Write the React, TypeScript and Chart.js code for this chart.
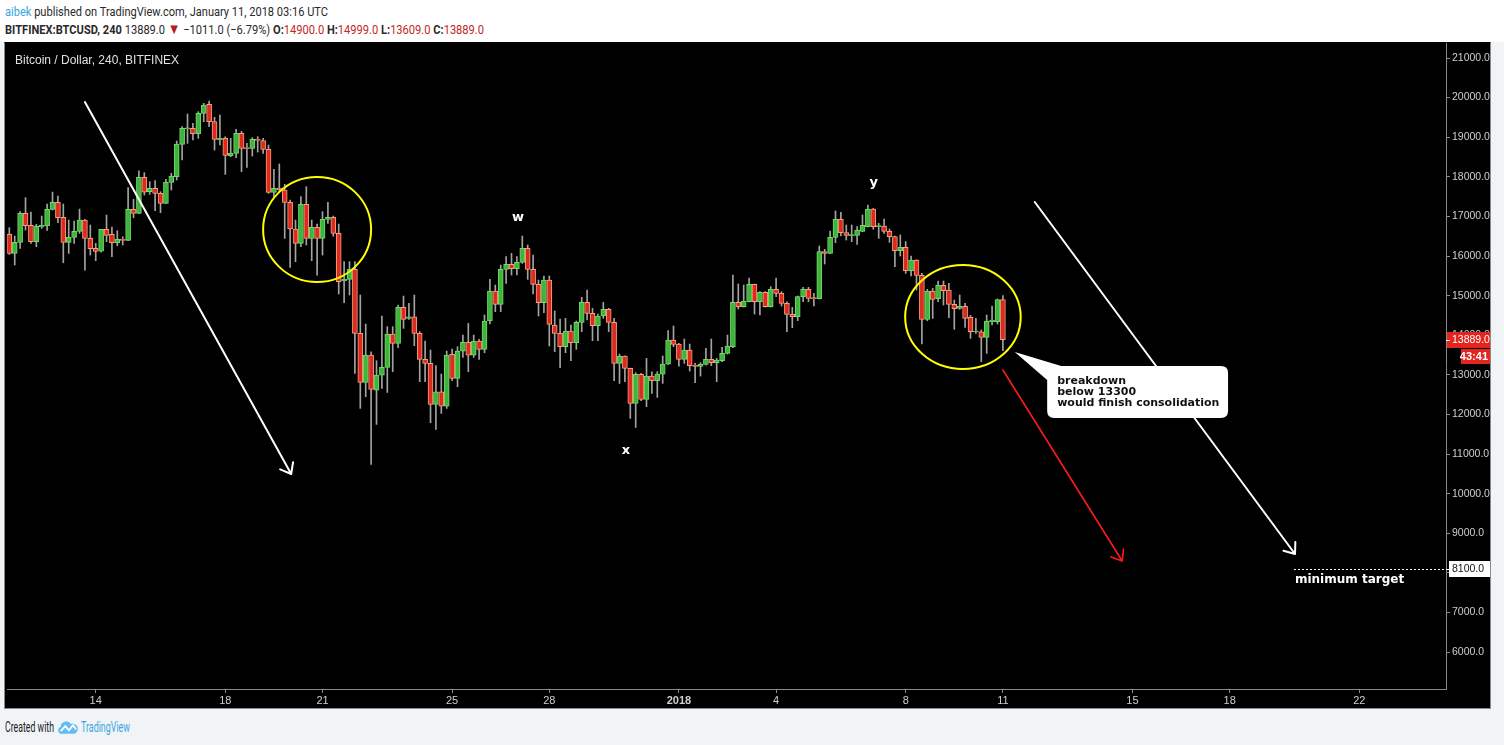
import React, { useEffect, useLayoutEffect, useRef } from "react";
import { Chart, registerables } from "chart.js";
Chart.register(...registerables);

// 4h candles, Dec 11 2017 08:00 UTC .. Jan 11 2018 00:00 UTC (index 0..184)
const opens = [16546,16066,16344,17077,16773,16361,16740,16765,17178,17355,16976,16344,16470,16622,16908,16445,16192,16125,16673,16546,16336,16420,16395,17178,17077,17986,17624,17708,17582,17329,17860,18003,18820,19207,19224,19089,19603,19830,19392,18929,18971,18525,18592,19097,18727,18719,18946,18912,18693,17607,17708,17666,17354,16681,16319,17304,16445,16723,16445,16925,16976,16571,15377,15410,15663,14046,12808,13499,12615,12994,13187,14029,13794,14703,14425,14467,14046,13389,13288,12253,12573,12211,13516,12909,13600,13819,13499,13853,13642,14358,15116,14779,15663,15789,15680,15840,16193,15663,15284,14821,15393,14257,14046,13709,14105,13810,14324,14829,14551,14240,14484,14652,14324,13288,13474,13162,12278,13011,12379,12969,12851,13019,13271,13878,13777,13390,13625,13246,13213,13263,13390,13305,13356,13541,13710,14829,14720,14846,15284,14846,15082,14720,15158,15057,14804,14526,14468,14973,15158,14939,14922,16109,16067,16471,16926,16589,16514,16522,16623,16741,17187,16741,16758,16623,16488,16135,16219,15629,15899,15511,14400,15116,14922,15259,15141,14779,14678,14728,14450,14080,14088,13945,14341,14341,14900];
const highs = [16714,16504,17119,17473,17110,16799,17009,17312,17615,17514,17312,16908,16883,17186,16925,16782,16319,16673,17034,16731,16639,16487,17725,17430,18154,18104,17877,17902,17624,17935,18087,18904,19266,19586,19350,19645,19855,19914,19502,19560,19013,18971,19198,19148,18845,18988,19013,18971,18803,18188,18323,17809,17413,16908,17498,17750,16908,16807,17119,17354,17009,16807,15857,15857,15857,15015,14282,13583,13356,14484,14215,14215,14762,14989,14804,15015,14088,13853,13625,13230,13019,13600,13651,13709,14004,14299,14004,13895,14509,15410,15267,15772,15983,16067,15983,16505,16278,16025,15393,15495,15495,14610,14408,14425,14257,14358,14956,15141,14678,14534,14829,14678,14425,13524,13480,13170,13053,13040,13415,13078,13078,13474,14114,14232,13794,13903,13777,13289,13305,13668,13903,13415,13693,14004,15520,15293,15267,15444,15290,15099,15099,15225,15444,15099,14846,14703,14990,15209,15209,15057,16253,16168,16631,17137,17103,16783,16783,16741,17036,17288,17204,16825,16935,16682,16505,16530,16362,16000,15905,15562,15158,15183,15368,15368,15309,14888,15015,14804,14501,14425,14131,14510,14737,14914,14999];
const lows = [16040,15772,16192,16656,16319,16235,16698,16647,17161,16841,15830,16066,16319,16571,15645,16024,15881,16100,16361,15982,16260,16277,16390,16967,17070,17540,17557,17144,17094,17320,17666,17919,18424,18845,18929,18971,19392,19266,18676,18803,18062,18508,18483,18129,18239,18525,18626,18592,17582,17498,17624,16445,15712,15856,16235,16277,15881,15519,16024,16824,16500,15039,14821,15015,13036,12152,12446,10737,11748,12657,12556,13078,13684,14173,14400,13735,12825,12825,11790,11621,12026,12152,12851,12699,13440,13078,13440,13389,13558,14282,14594,14594,15309,15520,15520,15815,15410,15040,14484,14568,13726,13583,13179,13558,13356,13642,14088,14383,13861,13861,14425,14088,12851,12783,12825,11899,11672,12350,12194,12531,12430,12783,13263,13710,13221,13289,13095,12800,12969,13246,13230,12826,13331,13524,13684,14661,14710,14840,14535,14510,14710,14710,14973,14737,14088,14190,14366,14846,14846,14737,14915,15798,16060,16337,16505,16404,16362,16295,16614,16735,16674,16446,16572,16345,15730,16000,15562,15495,15141,13777,14366,14425,14846,14762,14442,14147,14653,14198,13920,14046,13331,13541,14257,14282,13609];
const closes = [16066,16344,17077,16765,16361,16757,16773,17178,17355,16967,16344,16470,16622,16908,16445,16184,16117,16673,16521,16336,16420,16395,17178,17077,17986,17615,17708,17582,17329,17860,18020,18828,19224,19240,19089,19603,19813,19392,18946,18971,18542,18592,19097,18719,18710,18946,18921,18693,17607,17708,17675,17354,16681,16319,17304,16445,16723,16445,16925,16976,16571,15351,15410,15663,14046,12808,13499,12632,12994,13187,14029,13794,14703,14400,14467,14046,13389,13288,12253,12573,12211,13499,12909,13600,13819,13499,13853,13642,14358,15116,14779,15663,15789,15680,15840,16193,15663,15284,14821,15393,14274,14046,13709,14105,13810,14324,14829,14551,14240,14484,14652,14324,13288,13474,13162,12278,13011,12379,12969,12851,13019,13271,13878,13769,13390,13625,13230,13213,13272,13390,13305,13373,13541,13726,14829,14720,14863,15284,14846,15082,14720,15158,15057,14804,14526,14468,14973,15158,14930,14922,16109,16067,16471,16926,16589,16522,16539,16657,16775,17187,16741,16766,16623,16488,16135,16219,15629,15899,15511,14400,15116,14905,15259,15124,14779,14670,14728,14425,14088,14105,13945,14358,14383,14900,13889];

// x axis: candle index of each day label
const tickIndices = [16, 40, 58, 82, 100, 124, 142, 166, 184, 208, 226, 250];
const tickLabels = ["14", "18", "21", "25", "28", "2018", "4", "8", "11", "15", "18", "22"];
const priceTicks = [6000, 7000, 8000, 9000, 10000, 11000, 12000, 13000, 14000, 15000, 16000, 17000, 18000, 19000, 20000, 21000];

const lastPrice = 13889;
const targetPrice = 8100;
const countdown = "43:41";

// annotations in data units (candle index, price)
const arrowStarts = [[14.0, 19889], [189.9, 17364], [184.0, 13121]];
const arrowEnds = [[52.2, 10495], [238.1, 8475], [206.1, 8298]];
const arrowColors = ["#ffffff", "#ffffff", "#ff1a1a"];
const circleBoxes = [[47.0, 67.0, 17995, 15343], [165.9, 187.3, 15773, 13146]];
const waveNames = ["w", "x", "y"];
const waveX = [94.2, 114.2, 160.1];
const waveY = [16960, 11076, 17843];
const calloutBox = [192.2, 225.7, 13222, 11909];
const calloutTip = [186.2, 13576];
const calloutLines = ["breakdown", "below 13300", "would finish consolidation"];
const targetStartIdx = 237.9;

const X_MIN = -0.43;
const X_MAX = 266.06;
const Y_MIN = 5066;
const Y_MAX = 21379;

const AXIS_FAMILY = '"Liberation Sans", Arial, sans-serif';
const HEAD_FAMILY = 'Roboto, "Liberation Sans", sans-serif';

function drawArrow(ctx: CanvasRenderingContext2D, x1: number, y1: number, x2: number, y2: number, color: string, lw: number) {
  ctx.save();
  ctx.strokeStyle = color;
  ctx.lineWidth = lw;
  ctx.lineCap = "round";
  ctx.beginPath();
  ctx.moveTo(x1, y1);
  ctx.lineTo(x2, y2);
  const a = Math.atan2(y2 - y1, x2 - x1);
  const len = 12;
  const sp = (38 * Math.PI) / 180;
  ctx.moveTo(x2, y2);
  ctx.lineTo(x2 - len * Math.cos(a - sp), y2 - len * Math.sin(a - sp));
  ctx.moveTo(x2, y2);
  ctx.lineTo(x2 - len * Math.cos(a + sp), y2 - len * Math.sin(a + sp));
  ctx.stroke();
  ctx.restore();
}

const annotationPlugin = {
  id: "tvAnnotations",
  afterDatasetsDraw(chart: any) {
    const ctx: CanvasRenderingContext2D = chart.ctx;
    const xs = chart.scales.x;
    const ys = chart.scales.y;
    const ca = chart.chartArea;
    const px = (v: number) => xs.getPixelForValue(v);
    const py = (v: number) => ys.getPixelForValue(v);
    ctx.save();
    ctx.beginPath();
    ctx.rect(ca.left, ca.top, ca.right - ca.left, ca.bottom - ca.top);
    ctx.clip();

    // title
    ctx.fillStyle = "#e0e0e0";
    ctx.font = '12px "Liberation Sans", Arial, sans-serif';
    ctx.textBaseline = "middle";
    ctx.textAlign = "left";
    ctx.fillText("Bitcoin / Dollar, 240, BITFINEX", ca.left + 8, ca.top + 18);

    // circles
    ctx.strokeStyle = "#ffff00";
    ctx.lineWidth = 2;
    circleBoxes.forEach((b) => {
      const x0 = px(b[0]), x1 = px(b[1]), y0 = py(b[2]), y1 = py(b[3]);
      ctx.beginPath();
      ctx.ellipse((x0 + x1) / 2, (y0 + y1) / 2, Math.abs(x1 - x0) / 2, Math.abs(y1 - y0) / 2, 0, 0, Math.PI * 2);
      ctx.stroke();
    });

    // arrows
    arrowStarts.forEach((s, i) => {
      const e = arrowEnds[i];
      drawArrow(ctx, px(s[0]), py(s[1]), px(e[0]), py(e[1]), arrowColors[i], i === 2 ? 1.6 : 2);
    });

    // wave labels
    ctx.fillStyle = "#ffffff";
    ctx.font = 'bold 13px "DejaVu Sans", sans-serif';
    ctx.textAlign = "center";
    waveNames.forEach((n, i) => ctx.fillText(n, px(waveX[i]), py(waveY[i])));

    // callout
    const bx0 = px(calloutBox[0]), bx1 = px(calloutBox[1]), by0 = py(calloutBox[2]), by1 = py(calloutBox[3]);
    const r = 7;
    ctx.fillStyle = "#ffffff";
    ctx.beginPath();
    ctx.moveTo(bx0 + r, by0);
    ctx.lineTo(bx1 - r, by0);
    ctx.quadraticCurveTo(bx1, by0, bx1, by0 + r);
    ctx.lineTo(bx1, by1 - r);
    ctx.quadraticCurveTo(bx1, by1, bx1 - r, by1);
    ctx.lineTo(bx0 + r, by1);
    ctx.quadraticCurveTo(bx0, by1, bx0, by1 - r);
    ctx.lineTo(bx0, by0 + r);
    ctx.quadraticCurveTo(bx0, by0, bx0 + r, by0);
    ctx.closePath();
    ctx.fill();
    ctx.beginPath();
    ctx.moveTo(px(calloutTip[0]), py(calloutTip[1]));
    ctx.lineTo(bx0 + 14, by0);
    ctx.lineTo(bx0, by0 + 14);
    ctx.closePath();
    ctx.fill();
    ctx.fillStyle = "#111111";
    ctx.font = 'bold 11px "DejaVu Sans", sans-serif';
    ctx.textAlign = "left";
    calloutLines.forEach((t, i) => ctx.fillText(t, bx0 + 10, by0 + 15.5 + i * 10.6));

    // target dotted line + text
    const ty = Math.round(py(targetPrice)) + 0.5;
    ctx.strokeStyle = "#ffffff";
    ctx.lineWidth = 1;
    ctx.setLineDash([2, 2]);
    ctx.beginPath();
    ctx.moveTo(px(targetStartIdx), ty);
    ctx.lineTo(ca.right, ty);
    ctx.stroke();
    ctx.setLineDash([]);
    ctx.fillStyle = "#ffffff";
    ctx.font = 'bold 12px "DejaVu Sans", sans-serif';
    ctx.fillText("minimum target", px(targetStartIdx) + 1, ty + 10);
    ctx.restore();
  },
  afterDraw(chart: any) {
    const ctx: CanvasRenderingContext2D = chart.ctx;
    const ys = chart.scales.y;
    const ca = chart.chartArea;
    const W = chart.width;
    ctx.save();
    ctx.textBaseline = "middle";
    ctx.textAlign = "left";
    // last price label
    const yl = Math.round(ys.getPixelForValue(lastPrice));
    ctx.fillStyle = "#e3261d";
    ctx.fillRect(ca.right + 1, yl - 8, W - ca.right - 1, 16);
    ctx.fillStyle = "#ffffff";
    ctx.fillRect(ca.right, yl, 4, 1);
    ctx.font = "10.5px " + AXIS_FAMILY;
    ctx.fillText(lastPrice.toFixed(1), ca.right + 6, yl + 0.5);
    ctx.fillStyle = "#e3261d";
    ctx.fillRect(W - 29, yl + 9, 29, 15);
    ctx.fillStyle = "#ffffff";
    ctx.font = "bold 11px " + AXIS_FAMILY;
    ctx.textAlign = "right";
    ctx.fillText(countdown, W - 2, yl + 16.5);
    // target label
    const yt = Math.round(ys.getPixelForValue(targetPrice));
    ctx.fillStyle = "#ffffff";
    ctx.fillRect(ca.right + 3, yt - 8, W - ca.right - 3, 16);
    ctx.fillRect(ca.right, yt, 4, 1);
    ctx.fillStyle = "#111111";
    ctx.font = "10.5px " + AXIS_FAMILY;
    ctx.textAlign = "left";
    ctx.fillText(targetPrice.toFixed(1), ca.right + 6, yt + 0.5);
    ctx.restore();
  },
};

function CandleChart() {
  const ref = useRef<HTMLCanvasElement | null>(null);
  useEffect(() => {
    if (!ref.current) return;
    const up = opens.map((o, i) => closes[i] >= o);
    const chart = new Chart(ref.current, {
      type: "bar",
      data: {
        datasets: [
          {
            data: opens.map((o, i) => ({ x: i, y: [o, closes[i]] })) as any,
            backgroundColor: up.map((u) => (u ? "#3db53a" : "#dc2a1f")),
            borderColor: up.map((u) => (u ? "#74d86c" : "#f6a07c")),
            borderWidth: 1,
            borderSkipped: false,
            barThickness: 5,
            minBarLength: 1,
            grouped: false,
            order: 0,
          } as any,
          {
            data: lows.map((l, i) => ({ x: i, y: [l, highs[i]] })) as any,
            backgroundColor: "#a3a3a3",
            borderWidth: 0,
            barThickness: 1,
            grouped: false,
            order: 1,
          } as any,
        ],
      },
      options: {
        animation: false,
        responsive: false,
        events: [],
        layout: { padding: { left: 2, top: 0, right: 0, bottom: 0 } },
        plugins: { legend: { display: false }, tooltip: { enabled: false } },
        scales: {
          x: {
            type: "linear",
            min: X_MIN,
            max: X_MAX,
            offset: false,
            afterBuildTicks: (s: any) => {
              s.ticks = tickIndices.map((v) => ({ value: v }));
            },
            afterFit: (s: any) => {
              s.height = 19;
              s.paddingLeft = 0;
              s.paddingRight = 0;
            },
            grid: { display: true, offset: false, drawOnChartArea: false, drawTicks: true, tickLength: 4, color: "#8a8a8a" },
            border: { display: true, color: "#8a8a8a" },
            ticks: {
              autoSkip: false,
              maxRotation: 0,
              padding: 1,
              color: "#cfcfcf",
              font: (c: any) => ({ size: 11, family: AXIS_FAMILY, weight: c.index === 5 ? "bold" : "normal" }),
              callback: (_v: any, i: number) => tickLabels[i],
            },
          },
          y: {
            position: "right",
            min: Y_MIN,
            max: Y_MAX,
            afterBuildTicks: (s: any) => {
              s.ticks = priceTicks.map((v) => ({ value: v }));
            },
            afterFit: (s: any) => {
              s.width = 44;
              s.paddingTop = 0;
              s.paddingBottom = 0;
            },
            grid: { display: true, offset: false, drawOnChartArea: false, drawTicks: true, tickLength: 4, color: "#8a8a8a" },
            border: { display: true, color: "#8a8a8a" },
            ticks: {
              padding: 2,
              color: "#cfcfcf",
              font: { size: 10.5, family: AXIS_FAMILY },
              callback: (v: any) => Number(v).toFixed(1),
            },
          },
        },
      } as any,
      plugins: [annotationPlugin],
    });
    return () => chart.destroy();
  }, []);
  return <canvas ref={ref} width={1485} height={665} style={{ display: "block", background: "#000" }} />;
}

function FitText(props: { left: number; top: number; width: number; style?: any; children?: any }) {
  const ref = useRef<HTMLDivElement | null>(null);
  useLayoutEffect(() => {
    const el = ref.current;
    if (!el) return;
    el.style.transform = "none";
    const w = el.getBoundingClientRect().width;
    if (w > 0) el.style.transform = `scaleX(${props.width / w})`;
  }, [props.width]);
  return (
    <div
      ref={ref}
      style={{
        position: "absolute",
        left: props.left,
        top: props.top,
        whiteSpace: "nowrap",
        transformOrigin: "left center",
        ...(props.style || {}),
      }}
    >
      {props.children}
    </div>
  );
}

export default function App() {
  const red = "#c0271f";
  const head = { fontFamily: HEAD_FAMILY, fontSize: 13, lineHeight: "18px", color: "#2a2a2a" };
  return (
    <div style={{ position: "fixed", left: 0, top: 0, width: 1504, height: 745, background: "#f1f4f7", overflow: "hidden" }}>
      <div style={{ position: "absolute", left: 0, top: 0, width: 1504, height: 42, background: "#ffffff" }} />
      <FitText left={5} top={3} width={323} style={head}>
        <span style={{ color: "#3aa6dd" }}>aibek</span> published on TradingView.com, January 11, 2018 03:16 UTC
      </FitText>
      <FitText left={5} top={21} width={479} style={head}>
        <b>BITFINEX:BTCUSD, 240</b> 13889.0 <span style={{ color: "#b71c1c", fontSize: 15, lineHeight: "14px" }}>▼</span> −1011.0 (−6.79%) <b>O:</b>
        <span style={{ color: red }}>14900.0</span> <b>H:</b>
        <span style={{ color: red }}>14999.0</span> <b>L:</b>
        <span style={{ color: red }}>13609.0</span> <b>C:</b>
        <span style={{ color: red }}>13889.0</span>
      </FitText>
      <div style={{ position: "absolute", left: 4, top: 42, width: 1485, height: 665, borderLeft: "1px solid #8a8a8a", borderRight: "1px solid #8a8a8a", borderBottom: "1px solid #8a8a8a", borderTop: "1px solid #000", background: "#000" }}>
        <CandleChart />
      </div>
      <FitText left={5} top={718} width={49} style={{ ...head, fontSize: 14, color: "#222" }}>
        Created with
      </FitText>
      <svg width="20" height="15" viewBox="0 0 22 16" style={{ position: "absolute", left: 58, top: 720 }}>
        <path d="M4 15 A4 4 0 0 1 3 7.2 A6 6 0 0 1 14 4 A5 5 0 0 1 18 15 Z" fill="#62bdf0" />
        <polyline points="3,12 8,6.5 12,11 16.5,5.5 20,10" fill="none" stroke="#ffffff" strokeWidth="2" />
      </svg>
      <FitText left={81} top={718} width={49} style={{ ...head, fontSize: 14, color: "#3aa6dd" }}>
        TradingView
      </FitText>
    </div>
  );
}
